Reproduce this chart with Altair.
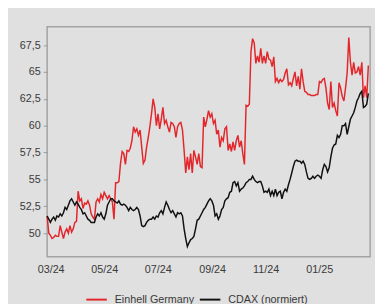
import altair as alt
import pandas as pd

# Sample dates (evenly spaced readings across the chart, Feb 2024 - Feb 2025)
dates = pd.date_range(start="2024-02-26", end="2025-02-26", periods=198)

einhell = [
    51.6, 50.0, 49.8, 49.5, 49.6, 49.8, 49.7, 49.7, 50.7, 50.1,
    49.5, 50.1, 50.4, 50.0, 50.7, 50.1, 50.4, 51.0, 51.1, 53.9,
    53.0, 53.2, 52.3, 52.8, 52.7, 53.0, 52.6, 51.8, 51.5, 51.3,
    52.9, 53.2, 52.9, 53.6, 53.2, 53.8, 53.5, 53.2, 53.5, 53.2,
    52.9, 51.3, 54.7, 54.7, 54.8, 56.5, 57.6, 57.4, 56.4, 57.7,
    57.6, 57.9, 58.6, 59.9, 59.4, 59.7, 59.1, 59.6, 58.0, 56.5,
    56.8, 58.0, 58.9, 59.9, 61.1, 62.5, 61.7, 60.0, 61.1, 59.7,
    60.6, 61.7, 60.2, 60.5, 59.9, 59.4, 60.3, 60.2, 59.9, 58.9,
    59.9, 60.2, 60.3, 59.6, 57.7, 55.6, 57.1, 55.9, 57.4, 55.6,
    57.7, 57.1, 56.4, 57.4, 56.2, 56.1, 60.8, 59.9, 60.6, 61.4,
    60.8, 61.1, 60.2, 60.5, 59.2, 59.6, 58.0, 58.9, 58.6, 59.7,
    59.9, 57.7, 58.3, 57.6, 58.5, 57.7, 58.6, 59.1, 58.0, 58.6,
    57.4, 56.4, 61.9, 61.8, 62.0, 66.9, 68.1, 67.7, 65.8, 66.5,
    65.9, 67.2, 65.8, 66.5, 65.8, 66.9, 66.2, 66.1, 65.5, 66.4,
    64.1, 64.4, 64.0, 64.3, 64.1, 64.3, 64.9, 65.3, 63.8, 64.0,
    63.7, 64.4, 65.0, 63.7, 64.6, 63.4, 65.3, 64.1, 63.2, 63.1,
    62.9, 62.9, 62.8, 62.8, 62.8, 62.9, 62.9, 64.1, 64.0, 64.3,
    64.4, 63.5, 62.1, 61.5, 64.1, 61.7, 62.1, 61.4, 60.9, 64.0,
    63.5, 62.7, 62.3, 63.5, 64.9, 68.2, 65.9, 64.7, 65.9, 64.9,
    65.0, 65.5, 64.7, 65.9, 62.6, 63.7, 62.6, 65.6,
]

cdax = [
    51.6, 51.3, 51.0, 51.3, 51.5, 51.2, 51.6, 51.5, 51.8, 51.6,
    51.9, 52.4, 52.2, 52.6, 53.0, 53.2, 52.9, 52.6, 52.9, 52.7,
    52.4, 52.2, 51.8, 51.9, 51.6, 51.3, 51.2, 51.0, 51.0, 51.0,
    51.5, 51.8, 51.6, 51.9, 51.5, 51.3, 51.8, 52.6, 52.9, 53.2,
    53.2, 53.0, 52.9, 52.8, 53.0, 52.7, 52.6, 52.7, 52.6, 52.4,
    52.1, 52.4, 52.2, 52.1, 52.2, 52.4, 52.2, 51.6, 50.7, 50.6,
    50.7, 51.0, 51.2, 51.3, 51.3, 51.5, 51.3, 51.6, 51.5, 51.9,
    52.1, 51.8, 52.4, 52.9, 52.6, 52.2, 51.9, 52.1, 51.8, 51.5,
    51.9, 51.8, 51.9, 51.6, 50.4, 49.5, 48.75, 49.1, 49.4, 49.5,
    49.7, 50.4, 51.2, 51.3, 51.6, 51.9, 52.2, 52.4, 52.7, 53.0,
    53.2, 53.0, 52.6, 51.6, 51.8, 51.3, 51.6, 52.2, 52.4, 53.0,
    53.2, 53.3, 53.8, 53.9, 54.7, 54.8, 54.4, 54.7, 53.9, 54.1,
    54.2, 54.4, 54.7, 54.8, 55.0, 55.0, 55.3, 55.0, 54.8, 54.7,
    54.8, 54.8, 54.4, 53.8, 53.9, 53.8, 54.1, 53.5, 53.9, 53.5,
    54.1, 53.5, 53.8, 53.9, 53.2, 53.8, 54.1, 53.9, 54.5, 55.0,
    55.6, 56.2, 56.7, 56.8, 56.7, 56.7, 56.5, 56.7, 56.4, 55.7,
    55.1, 55.0, 55.1, 55.3, 55.1, 55.3, 55.4, 55.3, 55.1, 55.9,
    56.4, 56.2, 55.7, 56.1, 57.1, 57.9, 58.2, 58.3, 59.1, 58.9,
    59.2, 60.0, 60.0, 60.2, 59.2, 59.9, 60.6, 60.9, 61.2, 61.7,
    62.3, 62.6, 63.0, 63.2, 61.7, 61.8, 62.0, 63.0,
]

series_names = ["Einhell Germany", "CDAX (normiert)"]
series_colors = ["#e3262b", "#111111"]
y_ticks = [50, 52.5, 55, 57.5, 60, 62.5, 65, 67.5]
x_ticks = ["2024-03-01", "2024-05-01", "2024-07-01", "2024-09-01", "2024-11-01", "2025-01-01"]

df = pd.concat([
    pd.DataFrame({"date": dates, "value": einhell, "series": series_names[0], "ord": 1}),
    pd.DataFrame({"date": dates, "value": cdax, "series": series_names[1], "ord": 0}),
])

font = "Liberation Sans"
text_col = "#3a3a3a"

chart = alt.Chart(df).mark_line(strokeWidth=1.5).encode(
    x=alt.X("date:T",
            scale=alt.Scale(domain=["2024-02-26", "2025-02-28"]),
            axis=alt.Axis(title=None, values=x_ticks,
                          format="%m/%y", grid=False, domain=False, ticks=False,
                          labelPadding=7, labelFontSize=11, labelColor=text_col,
                          labelFont=font)),
    y=alt.Y("value:Q",
            scale=alt.Scale(domain=[47.8, 69.2], nice=False, zero=False),
            axis=alt.Axis(title=None, values=y_ticks, grid=False, domain=False,
                          tickSize=4, tickColor="#9a9a9a", labelPadding=3,
                          labelExpr="replace(format(datum.value, '.1~f'), '.', ',')",
                          labelFontSize=11, labelColor=text_col, labelFont=font)),
    color=alt.Color("series:N",
                    scale=alt.Scale(domain=series_names, range=series_colors),
                    legend=alt.Legend(title=None, orient="none", direction="horizontal",
                                      legendX=39, legendY=267,
                                      symbolType="stroke", symbolSize=441,
                                      symbolStrokeWidth=2, labelFontSize=11,
                                      labelColor=text_col, labelFont=font,
                                      columnPadding=1, labelOffset=7)),
    order=alt.Order("ord:Q"),
).properties(
    width=330, height=235,
    padding={"left": 40, "top": 16, "right": 5, "bottom": 45},
    autosize="none",
    background="#e0e0e0",
).configure_view(
    stroke="#a3a3a3", strokeWidth=1.5, fill="#e0e0e0"
)

chart.save("out.html", embed_options={"renderer": "svg", "actions": False})
